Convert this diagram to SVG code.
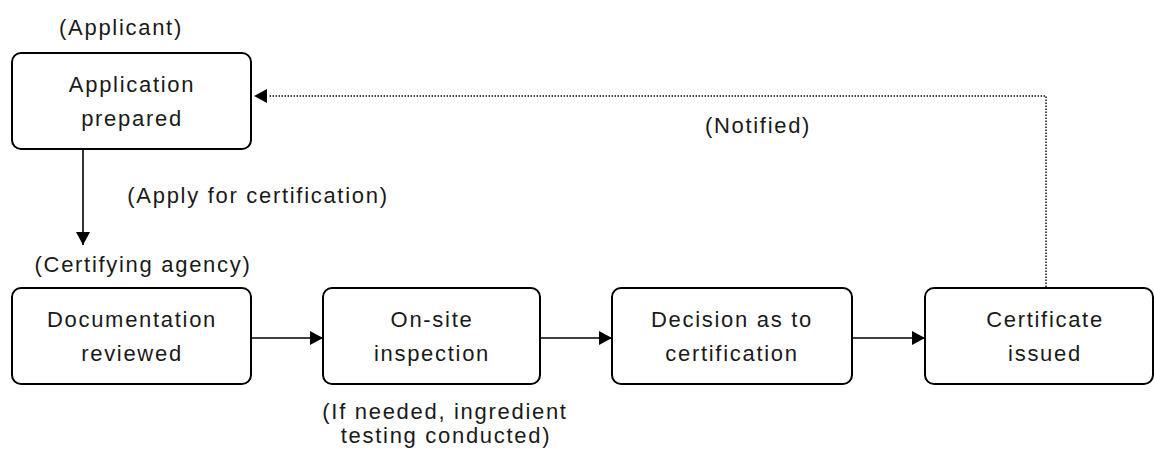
<svg xmlns="http://www.w3.org/2000/svg" width="1154" height="455" viewBox="0 0 1154 455">
  <style>
    .box { fill: #ffffff; stroke: #000000; stroke-width: 2; }
    .t { font-family: "Liberation Sans", Arial, sans-serif; font-size: 22px; letter-spacing: 1.7px; fill: #1a1a1a; text-anchor: middle; }
    .conn { fill: none; stroke: #000000; stroke-width: 1.6; }
    .dot { fill: none; stroke: #000000; stroke-width: 1.4; stroke-dasharray: 1.4 1.6; }
  </style>
  <defs>
    <marker id="ah" markerUnits="userSpaceOnUse" markerWidth="14" markerHeight="14" viewBox="0 0 14 14" refX="13" refY="7" orient="auto">
      <path d="M0,0 L13,7 L0,14 Z" fill="#000000"/>
    </marker>
  </defs>
  <rect width="1154" height="455" fill="#ffffff"/>

  <g id="connectors">
    <line class="conn" x1="83" y1="150" x2="83" y2="245" marker-end="url(#ah)"/>
    <line class="conn" x1="252" y1="338" x2="323" y2="338" marker-end="url(#ah)"/>
    <line class="conn" x1="541" y1="338" x2="612" y2="338" marker-end="url(#ah)"/>
    <line class="conn" x1="853" y1="338" x2="925" y2="338" marker-end="url(#ah)"/>
    <polyline class="dot" points="1046,287 1046,96 268,96"/>
    <path d="M254,96 L267,89 L267,103 Z" fill="#000000"/>
    <text class="t" x="258" y="203">(Apply for certification)</text>
    <text class="t" x="758" y="133">(Notified)</text>
  </g>

  <g id="node-application">
    <text class="t" x="121" y="35">(Applicant)</text>
    <rect class="box" x="12" y="53" width="239" height="96" rx="9"/>
    <text class="t" x="132" y="92">Application</text>
    <text class="t" x="132" y="126">prepared</text>
  </g>

  <g id="node-documentation">
    <text class="t" x="143" y="272">(Certifying agency)</text>
    <rect class="box" x="12" y="288" width="239" height="96" rx="9"/>
    <text class="t" x="132" y="327">Documentation</text>
    <text class="t" x="132" y="361">reviewed</text>
  </g>

  <g id="node-onsite">
    <rect class="box" x="323" y="288" width="217" height="96" rx="9"/>
    <text class="t" x="432" y="327">On-site</text>
    <text class="t" x="432" y="361">inspection</text>
    <text class="t" x="445" y="419">(If needed, ingredient</text>
    <text class="t" x="446" y="443">testing conducted)</text>
  </g>

  <g id="node-decision">
    <rect class="box" x="612" y="288" width="240" height="96" rx="9"/>
    <text class="t" x="732" y="327">Decision as to</text>
    <text class="t" x="732" y="361">certification</text>
  </g>

  <g id="node-certificate">
    <rect class="box" x="925" y="288" width="228" height="96" rx="9"/>
    <text class="t" x="1045" y="327">Certificate</text>
    <text class="t" x="1045" y="361">issued</text>
  </g>
</svg>
